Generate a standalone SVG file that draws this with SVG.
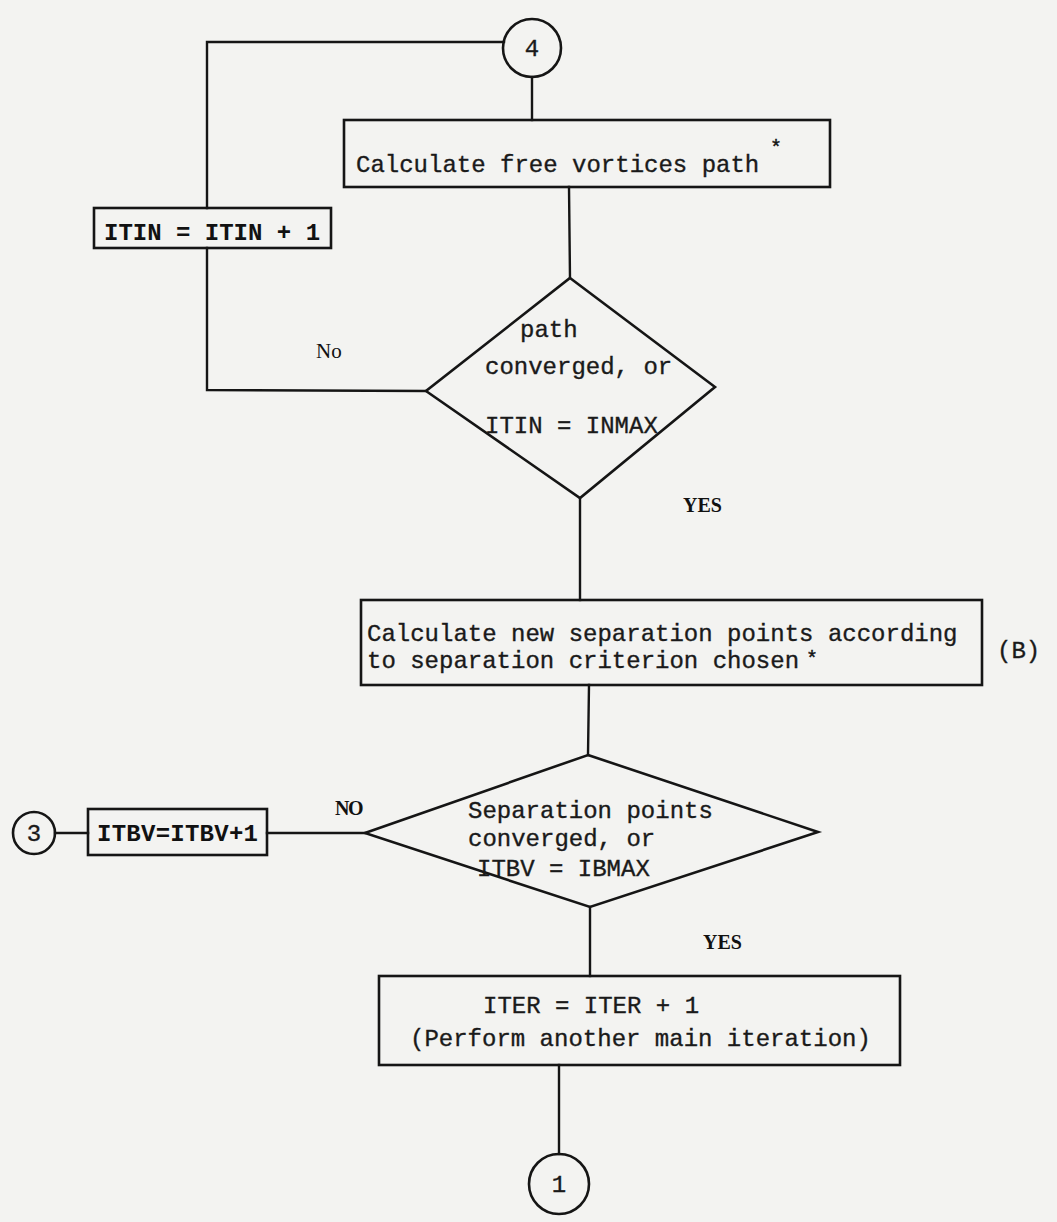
<svg xmlns="http://www.w3.org/2000/svg" width="1057" height="1222" viewBox="0 0 1057 1222">
<style>
.ln{fill:none;stroke:#151515;stroke-width:2.4;stroke-linecap:square}
.bx{fill:none;stroke:#151515;stroke-width:2.6}
.tt{font-family:"Liberation Mono","Courier New",monospace;font-size:24px;fill:#1a1a1a;stroke:#1a1a1a;stroke-width:0.35}
.tb{font-family:"Liberation Mono","Courier New",monospace;font-size:24px;font-weight:bold;fill:#111}
.st{font-family:"Liberation Mono","Courier New",monospace;font-size:20px;fill:#111;stroke:#111;stroke-width:0.4}
.sf{font-family:"Liberation Serif","Times New Roman",serif;font-size:21px;fill:#111}
.sb{font-family:"Liberation Serif","Times New Roman",serif;font-size:20px;font-weight:bold;fill:#111}
.mid{text-anchor:middle}
</style>
<rect x="0" y="0" width="1057" height="1222" fill="#f3f3f1"/>
<g id="connectors">
<polyline class="ln" points="504,42 207,42 207,208"/>
<polyline class="ln" points="207,248 207,390 426,391"/>
<line class="ln" x1="532" y1="77" x2="532" y2="120"/>
<line class="ln" x1="569" y1="187" x2="570" y2="278"/>
<line class="ln" x1="580" y1="498" x2="580" y2="600"/>
<line class="ln" x1="589" y1="685" x2="588" y2="755"/>
<line class="ln" x1="365" y1="833" x2="267" y2="833"/>
<line class="ln" x1="88" y1="833" x2="55" y2="833"/>
<line class="ln" x1="590" y1="907" x2="590" y2="976"/>
<line class="ln" x1="559" y1="1065" x2="559" y2="1154"/>
<text class="sf" x="316" y="358">No</text>
<text class="sb" x="683" y="512">YES</text>
<text class="sb" x="335" y="815" letter-spacing="-1.5">NO</text>
<text class="sb" x="703" y="949">YES</text>
</g>
<g id="c4">
<circle class="bx" cx="532" cy="48" r="29"/>
<text class="tt mid" x="532" y="56">4</text>
</g>
<g id="box1">
<rect class="bx" x="344" y="120" width="486" height="67"/>
<text class="tt" x="356" y="172">Calculate free vortices path</text>
<text class="st" x="770" y="154">*</text>
</g>
<g id="itin">
<rect class="bx" x="94" y="208" width="237" height="40"/>
<text class="tb" x="104" y="240">ITIN = ITIN + 1</text>
</g>
<g id="d1">
<polygon class="bx" points="570,278 715,387 580,498 426,391"/>
<text class="tt" x="520" y="337">path</text>
<text class="tt" x="485" y="374">converged, or</text>
<text class="tt" x="485" y="433">ITIN = INMAX</text>
</g>
<g id="box2">
<rect class="bx" x="361" y="600" width="621" height="85"/>
<text class="tt" x="367" y="641">Calculate new separation points according</text>
<text class="tt" x="367" y="668">to separation criterion chosen</text>
<text class="st" x="806" y="665">*</text>
<text class="tt" x="997" y="658">(B)</text>
</g>
<g id="d2">
<polygon class="bx" points="588,755 818,832 590,907 365,833"/>
<text class="tt" x="468" y="818">Separation points</text>
<text class="tt" x="468" y="846">converged, or</text>
<text class="tt" x="477" y="876">ITBV = IBMAX</text>
</g>
<g id="itbv">
<rect class="bx" x="88" y="809" width="179" height="46"/>
<text class="tb" x="97" y="841" textLength="161">ITBV=ITBV+1</text>
</g>
<g id="c3">
<circle class="bx" cx="34" cy="833" r="21"/>
<text class="tt mid" x="34" y="841">3</text>
</g>
<g id="box3">
<rect class="bx" x="379" y="976" width="521" height="89"/>
<text class="tt" x="483" y="1013">ITER = ITER + 1</text>
<text class="tt" x="410" y="1046">(Perform another main iteration)</text>
</g>
<g id="c1">
<circle class="bx" cx="559" cy="1184" r="30"/>
<text class="tt mid" x="559" y="1192">1</text>
</g>
</svg>
